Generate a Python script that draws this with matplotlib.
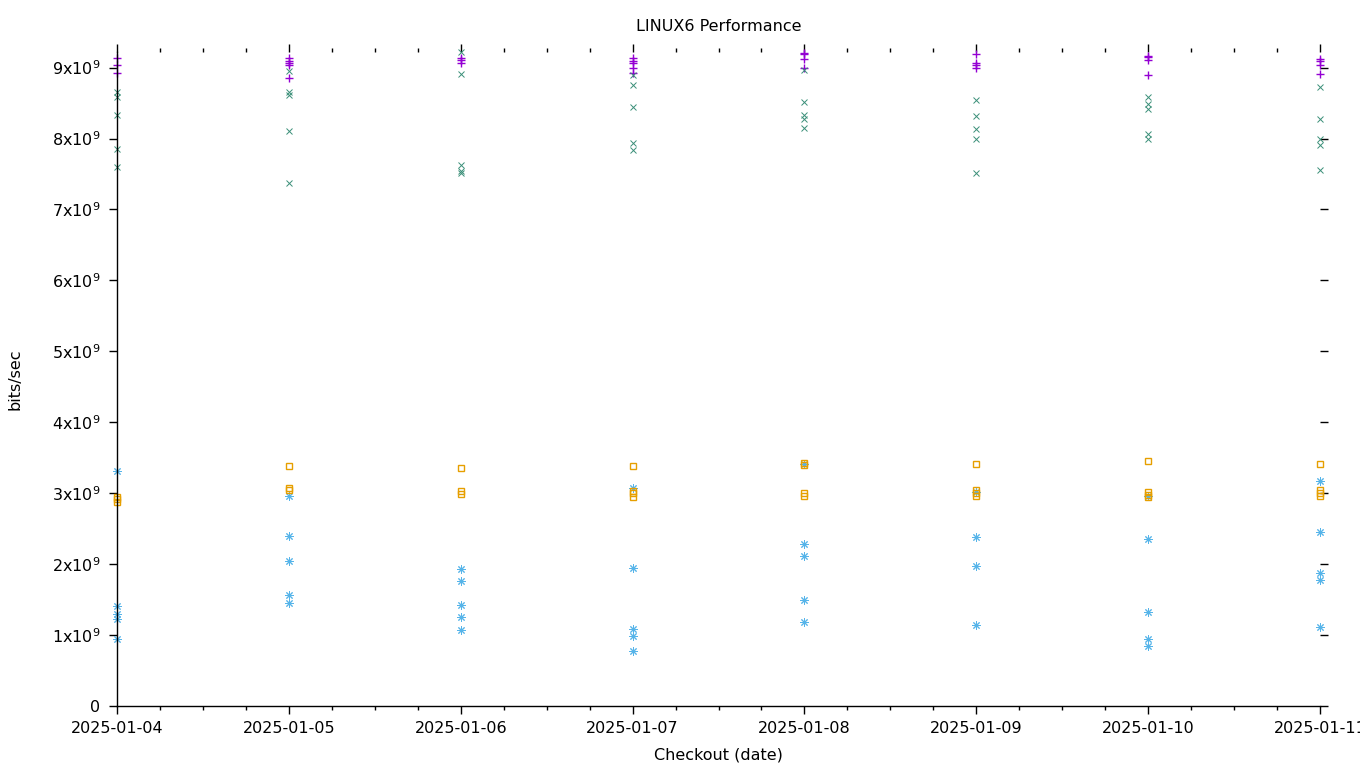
import matplotlib
matplotlib.use("Agg")
import matplotlib.pyplot as plt
import matplotlib.dates as mdates
import matplotlib.ticker as mticker
import pandas as pd

plt.rcParams['font.family'] = ['DejaVu Sans']

days = pd.to_datetime(["2025-01-04", "2025-01-05", "2025-01-06", "2025-01-07",
                       "2025-01-08", "2025-01-09", "2025-01-10", "2025-01-11"])

# values in units of 1e9 bits/sec, one list per checkout day
plus_vals = [
    [9.14, 9.03, 8.93],
    [9.14, 9.09, 9.06, 9.03, 8.85],
    [9.14, 9.11, 9.07],
    [9.14, 9.09, 9.07, 8.99, 8.93],
    [9.20, 9.19, 9.12, 9.00],
    [9.19, 9.07, 9.04, 9.00],
    [9.17, 9.15, 9.11, 8.90],
    [9.12, 9.09, 9.04, 8.91],
]
cross_vals = [
    [8.65, 8.59, 8.33, 7.85, 7.60],
    [8.95, 8.66, 8.62, 8.10, 7.37],
    [9.22, 8.91, 7.62, 7.54, 7.51],
    [8.90, 8.76, 8.45, 7.94, 7.84],
    [8.96, 8.52, 8.33, 8.28, 8.15],
    [8.55, 8.32, 8.14, 7.99, 7.52],
    [8.59, 8.49, 8.42, 8.07, 8.00],
    [8.73, 8.28, 8.00, 7.91, 7.55],
]
star_vals = [
    [3.31, 1.41, 1.30, 1.22, 0.95],
    [2.96, 2.39, 2.05, 1.57, 1.45],
    [1.93, 1.76, 1.42, 1.26, 1.07],
    [3.07, 1.94, 1.08, 0.98, 0.77],
    [3.41, 2.29, 2.11, 1.49, 1.19],
    [3.02, 2.38, 1.98, 1.14],
    [2.96, 2.35, 1.32, 0.94, 0.84],
    [3.17, 2.46, 1.87, 1.78, 1.11],
]
square_vals = [
    [2.95, 2.92, 2.88],
    [3.39, 3.08, 3.05],
    [3.36, 3.03, 2.99],
    [3.39, 3.03, 3.00, 2.94],
    [3.42, 3.40, 3.00, 2.96],
    [3.41, 3.04, 3.00, 2.96],
    [3.46, 3.02, 2.98, 2.95],
    [3.41, 3.05, 3.00, 2.96],
]

# values, marker, colour, size, edge width, fill
series = [
    (plus_vals, '+', '#9400d3', 5.5, 1.0, 'full'),
    (cross_vals, 'x', '#3a8f78', 5.0, 0.7, 'full'),
    (star_vals, (8, 2, 0), '#56b4e9', 6.0, 0.7, 'full'),
    (square_vals, 's', '#e69f00', 4.5, 1.0, 'none'),
]

fig = plt.figure(figsize=(13.6, 7.68), dpi=100)
ax = fig.add_axes([117 / 1360, 1 - 706 / 768, (1320 - 117) / 1360, (706 - 52) / 768])

for vals, marker, color, ms, mew, fill in series:
    xs, ys = [], []
    for d, day_vals in zip(days, vals):
        for v in day_vals:
            xs.append(d)
            ys.append(v * 1e9)
    ax.plot(xs, ys, linestyle='none', marker=marker, color=color, ms=ms,
            mew=mew, fillstyle=fill, clip_on=False)

ax.set_xlim(days[0], days[-1])
ax.set_ylim(0, 9.22e9)

ax.spines['top'].set_visible(False)
ax.spines['right'].set_visible(False)
ax.spines['left'].set_linewidth(1.0)
ax.spines['bottom'].set_linewidth(1.0)

ax.xaxis.set_major_locator(mdates.DayLocator())
ax.xaxis.set_minor_locator(mdates.HourLocator(byhour=[6, 12, 18]))
ax.xaxis.set_major_formatter(mdates.DateFormatter('%Y-%m-%d'))

yticks = [i * 1e9 for i in range(10)]
ax.set_yticks(yticks)


def yfmt(v, pos):
    n = int(round(v / 1e9))
    if n == 0:
        return '0'
    return r'%dx10$^{\mathregular{9}}$' % n


ax.yaxis.set_major_formatter(mticker.FuncFormatter(yfmt))

ax.tick_params(axis='both', which='major', direction='out', length=6,
               width=1.0, labelsize=11.5, top=True, right=True)
ax.tick_params(axis='x', which='minor', direction='out', length=3,
               width=1.0, top=True)
ax.tick_params(axis='y', which='major', pad=6)
ax.tick_params(axis='x', which='major', pad=5)

ax.set_title("LINUX6 Performance", fontsize=11.5, pad=15)
ax.set_xlabel("Checkout (date)", fontsize=11.5, labelpad=8)
ax.set_ylabel("bits/sec", fontsize=11.5, labelpad=21)

fig.savefig("out.png", dpi=100)
plt.close(fig)
